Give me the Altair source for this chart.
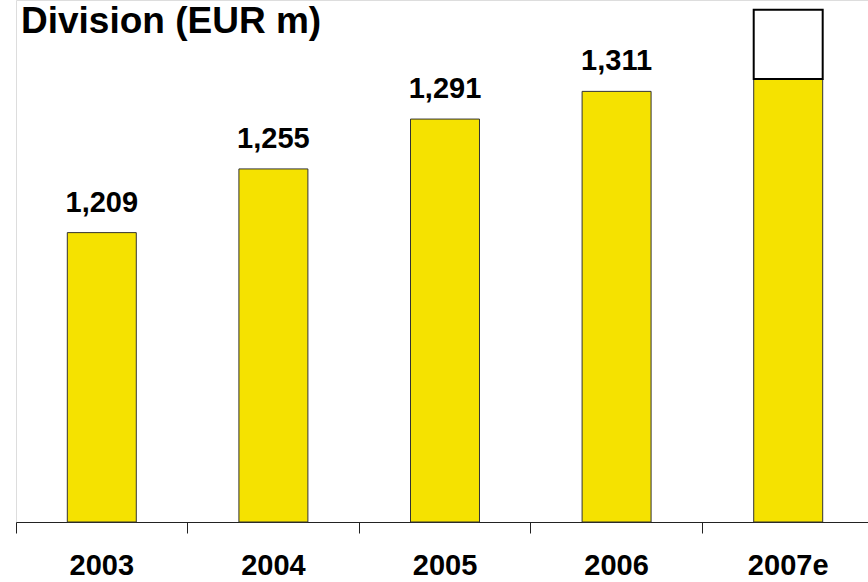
import altair as alt
import pandas as pd

# ---- data ----
years = ["2003", "2004", "2005", "2006", "2007e"]
values = [1209, 1255, 1291, 1311, 1320]
value_labels = ["1,209", "1,255", "1,291", "1,311", ""]
estimate_year = ["2007e"]
estimate_low = [1320]
estimate_high = [1370]
axis_floor = 1000
axis_ceiling = 1377

title_text = "Division (EUR m)"

FONT = "Liberation Sans"
YELLOW = "#F5E200"

PAD_INNER = 0.598
PAD_OUTER = PAD_INNER / 2

df = pd.DataFrame({"year": years, "value": values, "label": value_labels})
est = pd.DataFrame({"year": estimate_year, "low": estimate_low, "high": estimate_high})

xscale = alt.Scale(domain=years, range=[0, 858], paddingInner=PAD_INNER, paddingOuter=PAD_OUTER)
yscale = alt.Scale(domain=[axis_floor, axis_ceiling], zero=False, nice=False)

# ticks between categories: shift from band start back by half the inner gap
tick_band_pos = -(PAD_INNER / 2) / (1 - PAD_INNER)

x_enc = alt.X(
    "year:N",
    scale=xscale,
    sort=years,
    axis=alt.Axis(
        title=None,
        labelAngle=0,
        labelFont=FONT,
        labelFontSize=29,
        labelFontWeight="bold",
        labelColor="black",
        labelBaseline="alphabetic",
        labelPadding=41,
        ticks=True,
        bandPosition=tick_band_pos,
        tickSize=11,
        tickColor="#222222",
        domainColor="#222222",
        domainWidth=1,
        tickWidth=1,
        grid=False,
    ),
)

bars = alt.Chart(df).mark_bar(color=YELLOW, stroke="#333333", strokeWidth=1).encode(
    x=x_enc,
    y=alt.Y("value:Q", scale=yscale, axis=None),
    y2=alt.datum(axis_floor),
)

est_box = alt.Chart(est).mark_bar(color="white", stroke="black", strokeWidth=2).encode(
    x=alt.X("year:N", scale=xscale, sort=years),
    y=alt.Y("high:Q", scale=yscale, axis=None),
    y2="low:Q",
)

labels = alt.Chart(df).mark_text(
    font=FONT, fontSize=29, fontWeight="bold", color="black",
    baseline="alphabetic", dy=-21,
).encode(
    x=alt.X("year:N", scale=xscale, sort=years),
    y=alt.Y("value:Q", scale=yscale, axis=None),
    text="label:N",
)

title = alt.Chart(pd.DataFrame({"t": [title_text]})).mark_text(
    font=FONT, fontSize=37, fontWeight="bold", color="black",
    align="left", baseline="alphabetic",
).encode(
    x=alt.value(5),
    y=alt.value(33),
    text="t:N",
)

chart = alt.layer(bars, est_box, labels, title).properties(
    width=852,
    height=522,
    autosize=alt.AutoSizeParams(type="none"),
    padding={"left": 16, "top": 0, "right": 0, "bottom": 60},
).configure_view(stroke=None).configure(background="white")

chart.save("out.html", embed_options={"renderer": "svg", "actions": False})
